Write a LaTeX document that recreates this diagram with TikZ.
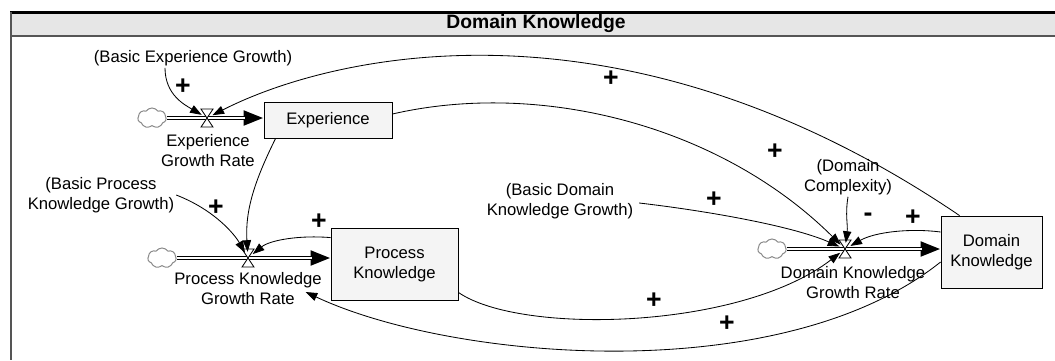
\documentclass[tikz,border=0pt]{standalone}
\usepackage{fontspec}
\setmainfont{Liberation Sans}
\usetikzlibrary{arrows.meta, calc, shapes.symbols}
\definecolor{barfill}{HTML}{E6E6E6}
\definecolor{boxfill}{HTML}{F4F4F4}
\definecolor{cloudgray}{HTML}{8A8A8A}
\definecolor{framegray}{HTML}{555555}

\begin{document}
\begin{tikzpicture}[
  x=0.6pt, y=-0.6pt,
  stock/.style={draw, fill=boxfill, line width=0.5pt, inner sep=0pt,
    align=center, font=\fontsize{10}{12}\selectfont},
  lbl/.style={align=center, inner sep=1pt, font=\fontsize{10}{12}\selectfont},
  sign/.style={inner sep=0pt, font=\fontsize{16}{16}\selectfont\bfseries},
  link/.style={-{Triangle[length=7pt, width=5pt]}, line width=0.5pt},
  pipe/.style={-{Triangle[length=12pt, width=8.5pt]}, line width=2.6pt},
  pipecore/.style={white, line width=1.2pt, shorten >=11pt},
  src/.style={cloud, cloud puffs=7, cloud puff arc=110, draw=cloudgray,
    fill=white, line width=0.6pt, minimum width=17pt, minimum height=12pt,
    inner sep=0pt},
  valve/.style={circle, minimum size=7pt, inner sep=0pt},
]
\useasboundingbox (0,0) rectangle (1055,360);

% ══════════════════════════════════════════════════════
% Frame and title bar
% ══════════════════════════════════════════════════════
\fill[barfill] (10,12) rectangle (1055,36);
\draw[line width=1.8pt] (10,12) -- (1055,12);
\draw[framegray, line width=1.6pt] (10,36) -- (1055,36);
\draw[framegray, line width=1.2pt] (10.5,12) -- (10.5,360);
\node[inner sep=0pt, font=\fontsize{11.6}{13}\selectfont\bfseries] (title)
  at (536,24) {Domain Knowledge};

% ══════════════════════════════════════════════════════
% Stocks
% ══════════════════════════════════════════════════════
\node[stock, minimum width=76.8pt, minimum height=21.6pt] (exp)
  at (328,120) {Experience};
\node[stock, minimum width=76.2pt, minimum height=43.2pt] (proc)
  at (394.5,264) {Process\\Knowledge};
\node[stock, minimum width=60.6pt, minimum height=43.2pt] (dom)
  at (991.5,252) {Domain\\Knowledge};

% ══════════════════════════════════════════════════════
% Sources, valves and flow pipes
% ══════════════════════════════════════════════════════
\node[src] (cexp) at (152,118) {};
\node[src] (cproc) at (162,258) {};
\node[src] (cdom) at (772,249) {};

\node[valve] (vexp) at (207,118) {};
\node[valve] (vproc) at (248,258) {};
\node[valve] (vdom) at (845,249) {};

\foreach \c/\b in {cexp/exp, cproc/proc, cdom/dom}{
  \draw[pipe] (\c.east) -- (\c.east -| \b.west);
  \draw[pipecore] (\c.east) -- (\c.east -| \b.west);
}

% hourglass valves
\foreach \v in {vexp, vproc, vdom}{
  \filldraw[fill=white, line width=0.5pt]
    (\v.center) -- ++(-6,-9) -- ++(12,0) -- cycle
    (\v.center) -- ++(-6,9) -- ++(12,0) -- cycle;
}

% ══════════════════════════════════════════════════════
% Labels
% ══════════════════════════════════════════════════════
\node[lbl] (lbeg) at (193,58) {(Basic Experience Growth)};
\node[lbl] (lexp) at (208,151) {Experience\\Growth Rate};
\node[lbl] (lbproc) at (101,195) {(Basic Process\\Knowledge Growth)};
\node[lbl] (lproc) at (248,289) {Process Knowledge\\Growth Rate};
\node[lbl] (lbdom) at (560,201) {(Basic Domain\\Knowledge Growth)};
\node[lbl] (lcplx) at (848,177) {(Domain\\Complexity)};
\node[lbl] (ldom) at (853,283) {Domain Knowledge\\Growth Rate};

% ══════════════════════════════════════════════════════
% Causal links
% ══════════════════════════════════════════════════════
\draw[link] ($(dom.north west)+(19,0)$)
  .. controls (620,-15) and (330,55) .. (vexp);
\draw[link] ($(exp.east)+(0,-6)$)
  .. controls (540,80) and (720,125) .. (vdom);
\draw[link] ($(exp.south west)+(12,0)$)
  .. controls (255,180) and (245,210) .. (vproc);
\draw[link] ($(lbeg.south)+(-28,0)$)
  .. controls (165,95) and (185,105) .. (vexp);
\draw[link] (lbproc.east)
  .. controls (215,210) and (235,235) .. (vproc);
\draw[link] ($(proc.north west)+(0,10)$)
  .. controls (300,235) and (270,240) .. (vproc);
\draw[link] ($(lbdom.east)+(4,2)$)
  .. controls (700,210) and (790,225) .. (vdom);
\draw[link] (lcplx.south)
  .. controls (845,215) and (848,225) .. (vdom);
\draw[link] ($(dom.west)+(0,-20)$)
  .. controls (910,228) and (875,232) .. (vdom);
\draw[link] ($(proc.south east)+(0,-8)$)
  .. controls (520,335) and (740,330) .. (vdom);
\draw[link] ($(dom.west)+(0,10)$)
  .. controls (780,390) and (450,360) .. ($(lproc.east)+(-18,3)$);

% polarities
\node[sign] (p1) at (183,87) {+};
\node[sign] (p2) at (611,79) {+};
\node[sign] (p3) at (775,152) {+};
\node[sign] (p4) at (216,208) {+};
\node[sign] (p5) at (319,222) {+};
\node[sign] (p6) at (714,200) {+};
\node[sign] (p7) at (868,217) {-};
\node[sign] (p8) at (913,218) {+};
\node[sign] (p9) at (654,301) {+};
\node[sign] (p10) at (727,324) {+};

\end{tikzpicture}
\end{document}
